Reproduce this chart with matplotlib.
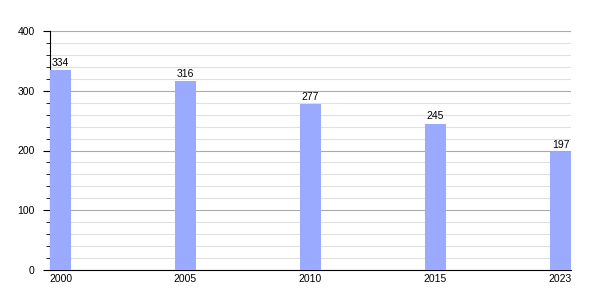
import matplotlib
matplotlib.use('Agg')
import matplotlib.pyplot as plt
import numpy as np
from matplotlib.ticker import MultipleLocator

years = ['2000', '2005', '2010', '2015', '2023']
values = [334, 316, 277, 245, 197]

plt.rcParams['font.family'] = ['Liberation Sans', 'DejaVu Sans']

fig = plt.figure(figsize=(6, 3), dpi=100)
ax = fig.add_axes([50 / 600, 30 / 300, 521 / 600, 239 / 300])

w = 0.168
x = np.arange(len(years))
bars = ax.bar(x, values, width=w, align='edge', color='#99aaff', zorder=3)
for b, v in zip(bars, values):
    ax.text(b.get_x() + w / 2, v + 4, str(v), ha='center', va='bottom', fontsize=7.5)

ax.set_xlim(0, len(years) - 1 + w)
ax.set_ylim(0, 400)
ax.set_xticks(x + w / 2)
ax.set_xticklabels(years)
ax.yaxis.set_major_locator(MultipleLocator(100))
ax.yaxis.set_minor_locator(MultipleLocator(20))
ax.grid(axis='y', which='major', color='#aaaaaa', lw=0.8, zorder=0)
ax.grid(axis='y', which='minor', color='#e0e0e0', lw=0.8, zorder=0)
ax.tick_params(axis='x', length=0, labelsize=7.5, pad=3)
ax.tick_params(axis='y', which='major', length=5, labelsize=7.5, pad=6)
ax.tick_params(axis='y', which='minor', length=3)
for s in ('top', 'right'):
    ax.spines[s].set_visible(False)
ax.spines['left'].set_linewidth(0.8)
ax.spines['bottom'].set_linewidth(0.8)

fig.savefig('out.png', dpi=100)
